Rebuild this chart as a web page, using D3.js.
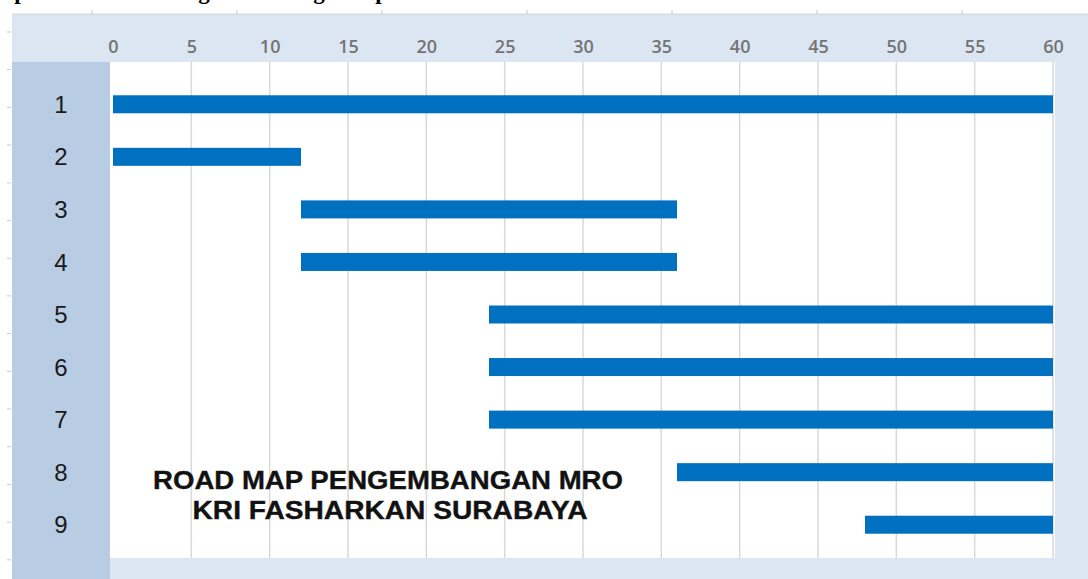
<!DOCTYPE html>
<html>
<head>
<meta charset="utf-8">
<script src="https://cdn.jsdelivr.net/npm/d3@7"></script>
<style>
  html, body { margin: 0; padding: 0; background: #fff; }
  svg { display: block; }
</style>
</head>
<body>
<svg width="1088" height="579"></svg>
<script>
// stages and their start / end (in months)
var stages = ["1", "2", "3", "4", "5", "6", "7", "8", "9"];
var startMonth = [0, 0, 12, 12, 24, 24, 24, 36, 48];
var endMonth = [60, 12, 36, 36, 60, 60, 60, 60, 60];
var xTicks = [0, 5, 10, 15, 20, 25, 30, 35, 40, 45, 50, 55, 60];
var noteLines = ["ROAD MAP PENGEMBANGAN MRO", "KRI FASHARKAN SURABAYA"];
var pageTitle = "Implementation Stage Planning Graph";

document.addEventListener("DOMContentLoaded", function() {
  var svg = d3.select("svg");
  var width = 1088, height = 579;

  var frameLeft = 12, frameTop = 14;
  var plotLeft = 110, plotTop = 62, plotRight = 1055, plotBottom = 558;

  var data = stages.map(function(s, i) {
    return { stage: s, start: startMonth[i], end: endMonth[i] };
  });

  var xScale = d3.scaleLinear().domain([0, 60]).range([113, 1053]);
  var yScale = d3.scaleBand().domain(stages).range([78, 551]);

  // clipped caption line from the page above (only descenders show)
  svg.append("text")
    .attr("x", -16).attr("y", -1)
    .attr("textLength", 418)
    .style("font-family", "'Liberation Serif', 'Times New Roman', serif")
    .style("font-weight", "bold")
    .style("font-size", "23px")
    .attr("fill", "#000")
    .text(pageTitle);

  // outer frame
  svg.append("rect")
    .attr("x", frameLeft).attr("y", frameTop)
    .attr("width", width - frameLeft).attr("height", height - frameTop)
    .attr("fill", "#dce6f2");
  svg.append("line")
    .attr("x1", frameLeft).attr("x2", width)
    .attr("y1", frameTop).attr("y2", frameTop)
    .attr("stroke", "#d6d6d6");

  // ruler ticks around the frame
  svg.selectAll(".rtop").data(d3.range(92, width, 145)).enter()
    .append("line")
    .attr("x1", function(d) { return d; }).attr("x2", function(d) { return d; })
    .attr("y1", frameTop - 4).attr("y2", frameTop)
    .attr("stroke", "#c8c8c8");
  svg.selectAll(".rleft").data(d3.range(32, height, 37.7)).enter()
    .append("line")
    .attr("x1", frameLeft - 5).attr("x2", frameLeft - 1)
    .attr("y1", function(d) { return d; }).attr("y2", function(d) { return d; })
    .attr("stroke", "#c8c8c8");

  // stage column
  svg.append("rect")
    .attr("x", frameLeft).attr("y", plotTop)
    .attr("width", plotLeft - frameLeft).attr("height", height - plotTop)
    .attr("fill", "#b8cce4");

  // plot area
  svg.append("rect")
    .attr("x", plotLeft).attr("y", plotTop)
    .attr("width", plotRight - plotLeft).attr("height", plotBottom - plotTop)
    .attr("fill", "#ffffff");

  // vertical gridlines
  svg.selectAll(".grid").data(xTicks.slice(1)).enter()
    .append("line")
    .attr("x1", function(d) { return xScale(d); })
    .attr("x2", function(d) { return xScale(d); })
    .attr("y1", plotTop).attr("y2", plotBottom)
    .attr("stroke", "#d9d9d9")
    .attr("stroke-width", 1.5);

  // top axis labels
  var xAxis = d3.axisTop(xScale).tickValues(xTicks).tickSize(0).tickPadding(0);
  var gx = svg.append("g")
    .attr("transform", "translate(0,53)")
    .call(xAxis);
  gx.select(".domain").remove();
  gx.selectAll("text")
    .style("font-family", "'Open Sans', 'Noto Sans', sans-serif")
    .style("font-size", "18px")
    .style("font-weight", "600")
    .attr("fill", "#747474");

  // stage labels
  svg.selectAll(".stageLabel").data(data).enter()
    .append("text")
    .attr("x", 61)
    .attr("y", function(d) { return yScale(d.stage) + yScale.bandwidth() / 2; })
    .attr("dy", "0.36em")
    .attr("text-anchor", "middle")
    .style("font-family", "'Liberation Sans', Arial, sans-serif")
    .style("font-size", "24px")
    .attr("fill", "#1a1a1a")
    .text(function(d) { return d.stage; });

  // bars
  var barH = 18;
  svg.selectAll(".bar").data(data).enter()
    .append("rect")
    .attr("x", function(d) { return xScale(d.start); })
    .attr("width", function(d) { return xScale(d.end) - xScale(d.start); })
    .attr("y", function(d) { return yScale(d.stage) + yScale.bandwidth() / 2 - barH / 2; })
    .attr("height", barH)
    .attr("fill", "#0070c0");

  // note text
  var noteWidths = [470, 395];
  var noteX = [388, 390];
  var noteY = [489, 519];
  svg.selectAll(".note").data(noteLines).enter()
    .append("text")
    .attr("x", function(d, i) { return noteX[i]; })
    .attr("y", function(d, i) { return noteY[i]; })
    .attr("text-anchor", "middle")
    .attr("textLength", function(d, i) { return noteWidths[i]; })
    .attr("lengthAdjust", "spacingAndGlyphs")
    .style("font-family", "'Liberation Sans', Arial, sans-serif")
    .style("font-weight", "bold")
    .style("font-size", "26px")
    .attr("fill", "#111")
    .attr("stroke", "#222")
    .attr("stroke-width", 0.4)
    .text(function(d) { return d; });
});
</script>
</body>
</html>
